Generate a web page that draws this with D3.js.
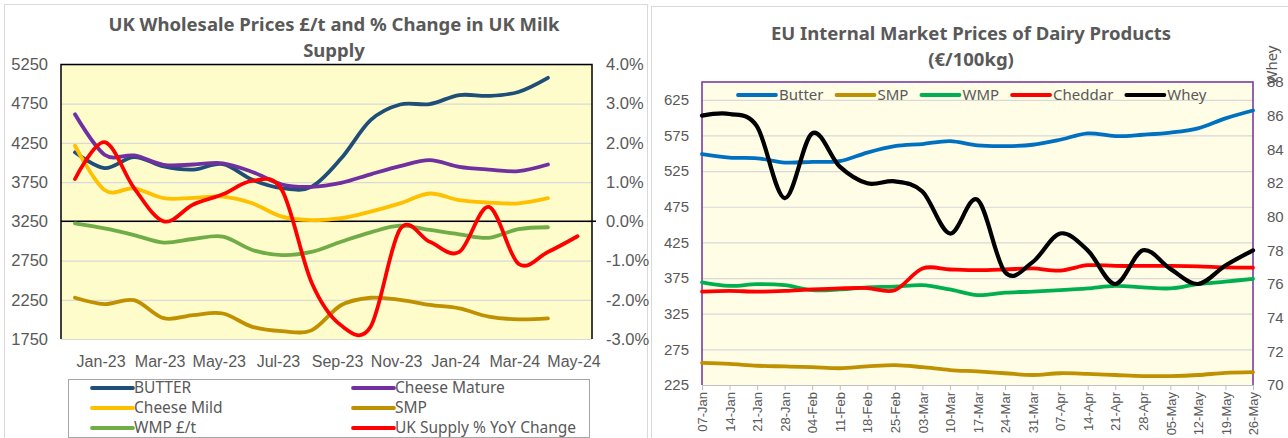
<!DOCTYPE html>
<html>
<head>
<meta charset="utf-8">
<script src="https://cdn.jsdelivr.net/npm/d3@7"></script>
<style>
  body { margin: 0; background: #fff; }
  svg { display: block; font-family: "Noto Sans", sans-serif; }
</style>
</head>
<body>
<svg id="chart" width="1288" height="438"></svg>
<script>
// ---- UK chart data (monthly, Dec-22 .. May-24) ----
const ukMonths = ["Dec-22","Jan-23","Feb-23","Mar-23","Apr-23","May-23","Jun-23","Jul-23","Aug-23",
  "Sep-23","Oct-23","Nov-23","Dec-23","Jan-24","Feb-24","Mar-24","Apr-24","May-24"]
const ukTickLabels = ["Jan-23","Mar-23","May-23","Jul-23","Sep-23","Nov-23","Jan-24","Mar-24","May-24"]
const ukButter = [4130, 3930, 4070, 3950, 3910, 3980, 3780, 3675, 3690, 4050, 4540, 4740, 4745, 4860, 4850, 4900, 5080]
const ukCheeseMature = [4615, 4100, 4090, 3970, 3975, 3990, 3880, 3720, 3690, 3740, 3850, 3955, 4030, 3945, 3910, 3890, 3975]
const ukCheeseMild = [4214, 3650, 3670, 3545, 3550, 3565, 3480, 3310, 3265, 3290, 3375, 3480, 3605, 3520, 3490, 3480, 3545]
const ukSmp = [2276, 2195, 2245, 2015, 2055, 2075, 1905, 1850, 1860, 2180, 2276, 2250, 2185, 2140, 2035, 2000, 2012]
const ukWmp = [3224, 3160, 3075, 2980, 3025, 3055, 2885, 2820, 2860, 2990, 3110, 3195, 3140, 3085, 3040, 3150, 3175]
const ukSupply = [1.08, 2.02, 0.85, 0.0, 0.43, 0.69, 1.03, 0.80, -1.55, -2.65, -2.69, -0.2, -0.52, -0.78, 0.37, -1.08, -0.78, -0.38]

// ---- EU chart data (weekly) ----
const euWeeks = ["07-Jan","14-Jan","21-Jan","28-Jan","04-Feb","11-Feb","18-Feb","25-Feb","03-Mar","10-Mar",
  "17-Mar","24-Mar","31-Mar","07-Apr","14-Apr","21-Apr","28-Apr","05-May","12-May","19-May","26-May"]
const euButter = [549, 544, 543, 537, 538, 539, 551, 560, 563, 567, 561, 560, 562, 569, 578, 574, 576, 579, 585, 599, 610]
const euSmp = [256, 254.5, 252, 251, 250, 248.5, 251, 253, 250, 246, 244, 241.5, 239, 241.5, 240.5, 239, 237.5, 237.5, 239, 242, 243]
const euWmp = [369, 364, 366.5, 365, 358, 359, 362, 363, 365, 359, 351, 354.5, 356, 358, 360.5, 364, 362, 360.5, 366.5, 370, 374]
const euCheddar = [356, 357, 356, 357, 359, 360.5, 361, 358, 388.5, 387, 386, 387, 388.5, 385.5, 393, 392, 392, 392, 391.5, 390, 389.5]
const euWhey = [86.0, 86.1, 85.35, 81.1, 84.95, 82.97, 81.98, 82.1, 81.5, 79.0, 81.0, 76.7, 77.3, 79.0, 78.0, 76.0, 78.0, 76.9, 76.0, 77.1, 78.0]

const textColor = "#595959"
const gridColor = "#d9d9d9"
const smooth = d3.curveCatmullRom.alpha(0)

const svg = d3.select("#chart")

// panel frames
svg.append("rect").attr("x", 4.5).attr("y", 4.5).attr("width", 643).attr("height", 450)
  .attr("fill", "none").attr("stroke", gridColor)
svg.append("rect").attr("x", 651.5).attr("y", 6.5).attr("width", 650).attr("height", 450)
  .attr("fill", "none").attr("stroke", gridColor)

// ================= UK chart =================
const uk = {left: 61, right: 592, top: 64.5, bottom: 339}

const ukX = d3.scalePoint().domain(ukMonths).range([75, 577.5])
const ukY = d3.scaleLinear().domain([1750, 5250]).range([uk.bottom, uk.top])
const ukY2 = d3.scaleLinear().domain([-3, 4]).range([uk.bottom, uk.top])

svg.append("rect")
  .attr("x", uk.left).attr("y", uk.top)
  .attr("width", uk.right - uk.left).attr("height", uk.bottom - uk.top)
  .attr("fill", "#fefccb")

// left axis + gridlines
const ukLeftAxis = svg.append("g")
  .attr("transform", `translate(${uk.left},0)`)
  .call(d3.axisLeft(ukY).tickValues(d3.range(1750, 5251, 500))
    .tickSize(-(uk.right - uk.left)).tickPadding(13).tickFormat(d3.format("d")))
ukLeftAxis.select(".domain").remove()
ukLeftAxis.selectAll("line").attr("stroke", gridColor).attr("stroke-width", 1.2)
ukLeftAxis.selectAll("text").attr("fill", textColor).style("font-size", "16.5px")

// right axis (percent)
const ukRightAxis = svg.append("g")
  .attr("transform", `translate(${uk.right},0)`)
  .call(d3.axisRight(ukY2).tickValues(d3.range(-3, 4.01, 1))
    .tickSize(0).tickPadding(14).tickFormat(d => d.toFixed(1) + "%"))
ukRightAxis.select(".domain").remove()
ukRightAxis.selectAll("text").attr("fill", textColor).style("font-size", "16.5px")

// plot frame: top, left, right in black; zero line
svg.append("path")
  .attr("d", `M${uk.left},${uk.bottom}V${uk.top}H${uk.right}V${uk.bottom}`)
  .attr("fill", "none").attr("stroke", "#000").attr("stroke-width", 1.5)
svg.append("line")
  .attr("x1", uk.left).attr("x2", uk.right + 4)
  .attr("y1", ukY2(0)).attr("y2", ukY2(0))
  .attr("stroke", "#000").attr("stroke-width", 1.5)

// x labels
const ukXAxis = svg.append("g")
  .attr("transform", `translate(-4,${uk.bottom})`)
  .call(d3.axisBottom(ukX).tickValues(ukTickLabels).tickSize(0).tickPadding(17))
ukXAxis.select(".domain").remove()
ukXAxis.selectAll("text").attr("fill", textColor).style("font-size", "16px")

const ukSeries = [
  {name: "BUTTER", values: ukButter, color: "#1f4e79", y: ukY},
  {name: "Cheese Mature", values: ukCheeseMature, color: "#7030a0", y: ukY},
  {name: "Cheese Mild", values: ukCheeseMild, color: "#ffc000", y: ukY},
  {name: "SMP", values: ukSmp, color: "#bf9000", y: ukY},
  {name: "WMP £/t", values: ukWmp, color: "#70ad47", y: ukY},
  {name: "UK Supply % YoY Change", values: ukSupply, color: "#ff0000", y: ukY2}
]

ukSeries.forEach(s => {
  svg.append("path")
    .datum(s.values)
    .attr("fill", "none")
    .attr("stroke", s.color)
    .attr("stroke-width", 3.8)
    .attr("stroke-linecap", "round")
    .attr("d", d3.line()
      .x((d, i) => ukX(ukMonths[i]))
      .y(d => s.y(d))
      .curve(smooth))
})

// title
const ukTitle = svg.append("text")
  .attr("text-anchor", "middle").attr("fill", textColor)
  .style("font-size", "18.5px").style("font-weight", "bold")
ukTitle.append("tspan").attr("x", 334).attr("y", 31).text("UK Wholesale Prices £/t and % Change in UK Milk")
ukTitle.append("tspan").attr("x", 334).attr("y", 57).text("Supply")

// legend
svg.append("rect")
  .attr("x", 68.5).attr("y", 379.5).attr("width", 521).attr("height", 58)
  .attr("fill", "#fff").attr("stroke", "#a6a6a6")

const ukLegend = svg.append("g").selectAll("g")
  .data(ukSeries)
  .join("g")
  .attr("transform", (d, i) => `translate(${i % 2 ? 353 : 92},${388 + Math.floor(i / 2) * 20})`)
ukLegend.append("line")
  .attr("x1", 0).attr("x2", 41)
  .attr("stroke", d => d.color).attr("stroke-width", 3.8).attr("stroke-linecap", "round")
ukLegend.append("text")
  .attr("x", 42).attr("dy", "0.35em")
  .attr("fill", textColor).style("font-size", "15.5px")
  .text(d => d.name)

// ================= EU chart =================
const eu = {left: 702, right: 1253, top: 82, bottom: 385}

const euX = d3.scalePoint().domain(euWeeks).range([eu.left, eu.right])
const euY = d3.scaleLinear().domain([225, 650]).range([eu.bottom, eu.top])
const euY2 = d3.scaleLinear().domain([70, 88]).range([eu.bottom, eu.top])

svg.append("rect")
  .attr("x", eu.left).attr("y", eu.top)
  .attr("width", eu.right - eu.left).attr("height", eu.bottom - eu.top)
  .attr("fill", "#fffde6")

const euLeftAxis = svg.append("g")
  .attr("transform", `translate(${eu.left},0)`)
  .call(d3.axisLeft(euY).tickValues(d3.range(225, 626, 50))
    .tickSize(-(eu.right - eu.left)).tickPadding(13))
euLeftAxis.select(".domain").remove()
euLeftAxis.selectAll("line").attr("stroke", gridColor).attr("stroke-width", 1.2)
euLeftAxis.selectAll("text").attr("fill", textColor).style("font-size", "15px")

const euRightAxis = svg.append("g")
  .attr("transform", `translate(${eu.right},0)`)
  .call(d3.axisRight(euY2).tickValues(d3.range(70, 88.1, 2)).tickSize(0).tickPadding(14))
euRightAxis.select(".domain").remove()
euRightAxis.selectAll("text").attr("fill", textColor).style("font-size", "15px")

// x axis with rotated week labels
const euXAxis = svg.append("g")
  .attr("transform", `translate(0,${eu.bottom})`)
  .call(d3.axisBottom(euX).tickSize(5))
euXAxis.select(".domain").attr("stroke", "#bfbfbf")
euXAxis.selectAll("line").attr("stroke", "#bfbfbf")
euXAxis.selectAll("text")
  .attr("transform", "rotate(-90)")
  .attr("x", -7).attr("y", 0).attr("dy", "0.36em")
  .attr("text-anchor", "end")
  .attr("fill", textColor).style("font-size", "13px")

// purple plot frame
svg.append("path")
  .attr("d", `M${eu.left},${eu.bottom}V${eu.top}H${eu.right}V${eu.bottom}`)
  .attr("fill", "none").attr("stroke", "#7030a0").attr("stroke-width", 1.5)

const euSeries = [
  {name: "Butter", values: euButter, color: "#0070c0", y: euY},
  {name: "SMP", values: euSmp, color: "#bf9000", y: euY},
  {name: "WMP", values: euWmp, color: "#00b050", y: euY},
  {name: "Cheddar", values: euCheddar, color: "#ff0000", y: euY},
  {name: "Whey", values: euWhey, color: "#000000", y: euY2}
]

euSeries.forEach(s => {
  svg.append("path")
    .datum(s.values)
    .attr("fill", "none")
    .attr("stroke", s.color)
    .attr("stroke-width", s.name == "Whey" ? 4.2 : 3.8)
    .attr("stroke-linecap", "round")
    .attr("d", d3.line()
      .x((d, i) => euX(euWeeks[i]))
      .y(d => s.y(d))
      .curve(smooth))
})

// legend inside plot, laid out by measured text width
let lx = 738
euSeries.forEach(s => {
  const g = svg.append("g").attr("transform", `translate(${lx},95)`)
  g.append("line").attr("x1", 0).attr("x2", 38)
    .attr("stroke", s.color).attr("stroke-width", 3.8).attr("stroke-linecap", "round")
  const t = g.append("text").attr("x", 41).attr("dy", "0.35em")
    .attr("fill", textColor).style("font-size", "15px").text(s.name)
  lx += 41 + t.node().getComputedTextLength() + 13
})

// title
const euTitle = svg.append("text")
  .attr("text-anchor", "middle").attr("fill", textColor)
  .style("font-size", "18.5px").style("font-weight", "bold")
euTitle.append("tspan").attr("x", 971).attr("y", 40).text("EU Internal Market Prices of Dairy Products")
euTitle.append("tspan").attr("x", 971).attr("y", 66).text("(€/100kg)")

// secondary axis title
svg.append("text")
  .attr("transform", "translate(1272,65) rotate(-90)")
  .attr("text-anchor", "middle").attr("dy", "0.35em")
  .attr("fill", textColor).style("font-size", "15px")
  .text("Whey")
</script>
</body>
</html>
